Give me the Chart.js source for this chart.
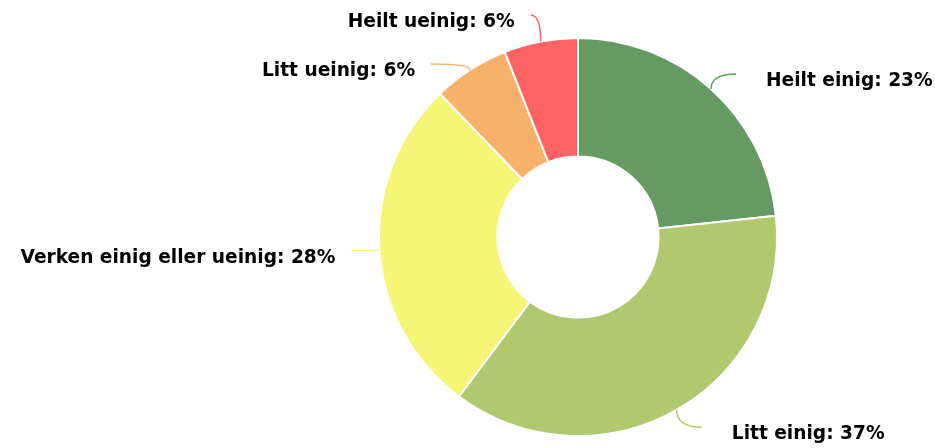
<!DOCTYPE html>
<html>
<head>
<meta charset="utf-8">
<script src="https://cdn.jsdelivr.net/npm/chart.js@4"></script>
<style>
  html, body { margin: 0; padding: 0; background: #fff; }
  #wrap { width: 935px; height: 448px; }
</style>
</head>
<body>
<div id="wrap"><canvas id="pieChart"></canvas></div>
<script>
// answers (clockwise from the top)
const categories = ["Heilt einig", "Litt einig", "Verken einig eller ueinig", "Litt ueinig", "Heilt ueinig"];
const shares = [23.3, 36.9, 27.6, 6.2, 6.0];
const sliceColors = ['#659a65', '#b0c96f', '#f5f576', '#f8b06a', '#fe6262'];

// outside labels with curved connectors, like the original
const outsideLabels = {
    id: 'outsideLabels',
    afterDatasetsDraw(chart) {
        const ctx = chart.ctx;
        const arcs = chart.getDatasetMeta(0).data;
        const dist = 28;
        const gap = 49;
        const minY = 15, maxY = chart.height - 18;
        let items = arcs.map((arc, i) => {
            const mid = (arc.startAngle + arc.endAngle) / 2;
            const R = arc.outerRadius + dist;
            return {
                i: i,
                cx: arc.x, cy: arc.y, R: R,
                right: Math.cos(mid) >= 0,
                ex: arc.x + Math.cos(mid) * arc.outerRadius,
                ey: arc.y + Math.sin(mid) * arc.outerRadius,
                y: arc.y + Math.sin(mid) * R * 0.965
            };
        });

        // spread overlapping labels apart on each side, keep them inside
        [true, false].forEach(side => {
            let list = items.filter(it => it.right === side).sort((a, b) => a.y - b.y);
            for (let pass = 0; pass < 20; pass++) {
                for (let k = 1; k < list.length; k++) {
                    const d = list[k].y - list[k - 1].y;
                    if (d < gap) {
                        list[k - 1].y -= (gap - d) / 2;
                        list[k].y += (gap - d) / 2;
                    }
                }
            }
            if (!list.length) return;
            list[0].y = Math.max(list[0].y, minY);
            for (let k = 1; k < list.length; k++) list[k].y = Math.max(list[k].y, list[k - 1].y + gap);
            const n = list.length - 1;
            list[n].y = Math.min(list[n].y, maxY);
            for (let k = n - 1; k >= 0; k--) list[k].y = Math.min(list[k].y, list[k + 1].y - gap);
        });

        ctx.save();
        ctx.font = 'bold 18.6px "DejaVu Sans"';
        ctx.textBaseline = 'alphabetic';
        items.forEach(it => {
            const dy = it.y - it.cy;
            const dx = Math.sqrt(Math.max(it.R * it.R - dy * dy, 0));
            const x = it.right ? it.cx + dx : it.cx - dx;

            ctx.strokeStyle = sliceColors[it.i];
            ctx.lineWidth = 1.5;
            ctx.beginPath();
            ctx.moveTo(x, it.y);
            ctx.quadraticCurveTo(it.ex, it.y, it.ex, it.ey);
            ctx.stroke();

            const txt = categories[it.i] + ': ' + Math.round(shares[it.i]) + '%';
            ctx.textAlign = it.right ? 'left' : 'right';
            const tx = it.right ? x + 30 : x - 16;
            ctx.lineWidth = 2;
            ctx.strokeStyle = '#fff';
            ctx.strokeText(txt, tx, it.y + 12);
            ctx.fillStyle = '#000';
            ctx.fillText(txt, tx, it.y + 12);
        });
        ctx.restore();
    }
};

new Chart(document.getElementById('pieChart').getContext('2d'), {
    type: 'doughnut',
    data: {
        labels: categories,
        datasets: [{
            data: shares,
            backgroundColor: sliceColors,
            borderColor: '#fff',
            borderWidth: 2
        }]
    },
    options: {
        responsive: true,
        maintainAspectRatio: false,
        animation: false,
        cutout: '40.5%',
        layout: { padding: { left: 378, right: 157, top: 37, bottom: 11 } },
        plugins: {
            legend: { display: false },
            tooltip: { enabled: false }
        }
    },
    plugins: [outsideLabels]
});
</script>
</body>
</html>
